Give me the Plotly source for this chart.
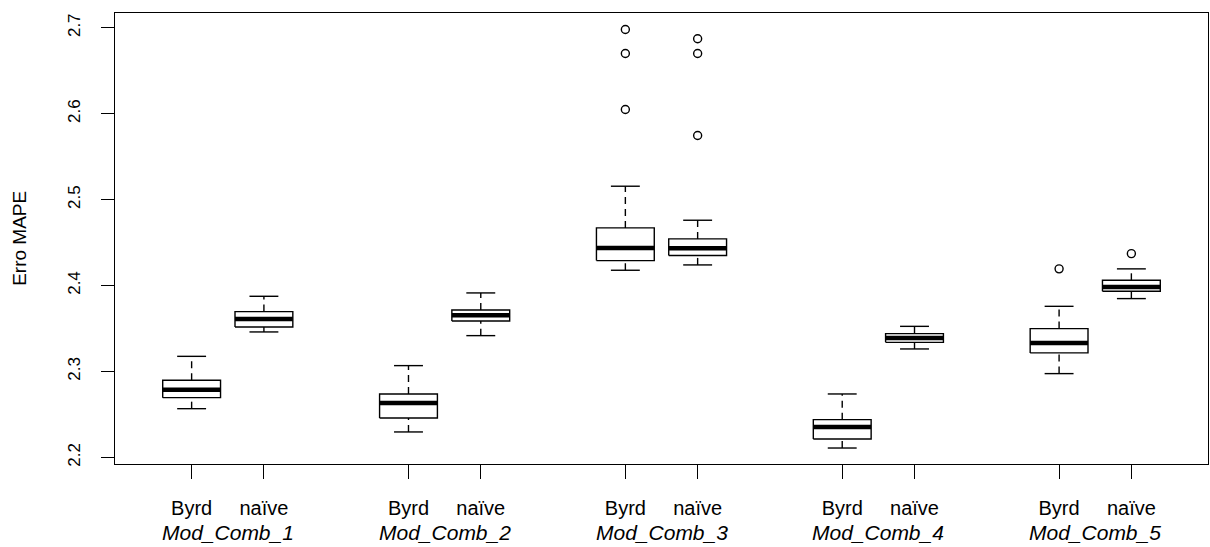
import plotly.graph_objects as go

groups = ["Mod_Comb_1", "Mod_Comb_2", "Mod_Comb_3", "Mod_Comb_4", "Mod_Comb_5"]
methods = ["Byrd", "naïve"]
# order: (g1 Byrd, g1 naive, g2 Byrd, g2 naive, ...)
lower_whisker = [2.2567, 2.3460, 2.2296, 2.3417, 2.4178, 2.4240, 2.2109, 2.3262, 2.2975, 2.3848]
q1 = [2.2695, 2.3518, 2.2459, 2.3588, 2.4290, 2.4349, 2.2214, 2.3339, 2.3216, 2.3933]
median = [2.2788, 2.3611, 2.2633, 2.3653, 2.4438, 2.4434, 2.2354, 2.3390, 2.3332, 2.3984]
q3 = [2.2897, 2.3697, 2.2738, 2.3716, 2.4671, 2.4543, 2.2439, 2.3440, 2.3499, 2.4061]
upper_whisker = [2.3176, 2.3875, 2.3068, 2.3914, 2.5156, 2.4760, 2.2738, 2.3525, 2.3758, 2.4194]
outliers = [[], [], [], [], [2.6049, 2.6700, 2.6980], [2.5746, 2.6700, 2.6872], [], [], [2.4194], [2.4372]]
y_ticks = [2.2, 2.3, 2.4, 2.5, 2.6, 2.7]

BOX_HALF = 0.4
CAP_HALF = 0.2
LW = 1.4

fig = go.Figure()
positions = []
labels = []
for i in range(len(median)):
    g, m = divmod(i, 2)
    p = 3 * g + m + 1
    positions.append(p)
    labels.append(methods[m])
    # dashed whiskers
    fig.add_trace(go.Scatter(
        x=[p, p, None, p, p], y=[lower_whisker[i], q1[i], None, q3[i], upper_whisker[i]],
        mode="lines", line=dict(color="black", width=LW, dash="7px,5px"),
        hoverinfo="skip", showlegend=False))
    # caps
    fig.add_trace(go.Scatter(
        x=[p - CAP_HALF, p + CAP_HALF, None, p - CAP_HALF, p + CAP_HALF],
        y=[lower_whisker[i], lower_whisker[i], None, upper_whisker[i], upper_whisker[i]],
        mode="lines", line=dict(color="black", width=LW),
        hoverinfo="skip", showlegend=False))
    # box
    fig.add_trace(go.Scatter(
        x=[p - BOX_HALF, p + BOX_HALF, p + BOX_HALF, p - BOX_HALF, p - BOX_HALF],
        y=[q1[i], q1[i], q3[i], q3[i], q1[i]],
        mode="lines", fill="toself", fillcolor="white",
        line=dict(color="black", width=LW),
        name=f"{groups[g]} {methods[m]}", showlegend=False))
    # median
    fig.add_trace(go.Scatter(
        x=[p - BOX_HALF, p + BOX_HALF], y=[median[i], median[i]],
        mode="lines", line=dict(color="black", width=4.5),
        hoverinfo="skip", showlegend=False))
    # outliers
    if outliers[i]:
        fig.add_trace(go.Scatter(
            x=[p] * len(outliers[i]), y=outliers[i], mode="markers",
            marker=dict(symbol="circle-open", size=8, color="black", line=dict(width=1.4)),
            showlegend=False))

for g, name in enumerate(groups):
    fig.add_annotation(x=3 * g + 1.5, xref="x", y=-0.1524, yref="paper",
                       text=f"<i>{name}</i>", showarrow=False,
                       xanchor="center", yanchor="middle",
                       font=dict(family="Liberation Sans, Arial", size=21, color="black"))

fig.add_annotation(x=-0.0875, xref="paper", y=0.5, yref="paper", text="Erro MAPE",
                   textangle=-90, showarrow=False, xanchor="center", yanchor="middle",
                   font=dict(family="Liberation Sans, Arial", size=19, color="black"))

fig.update_layout(
    width=1210, height=547,
    margin=dict(l=115, r=2, t=13, b=83),
    paper_bgcolor="white", plot_bgcolor="white",
    font=dict(family="Liberation Sans, Arial", color="black"),
    xaxis=dict(range=[-0.06, 15.06], tickvals=positions, ticktext=labels,
               ticks="outside", ticklen=14, tickwidth=LW, tickcolor="black",
               showgrid=False, zeroline=False, showline=True, linecolor="black",
               linewidth=LW, mirror=True, tickfont=dict(size=20),
               ticklabelstandoff=12),
    yaxis=dict(range=[2.1923, 2.7172], tickvals=y_ticks,
               ticktext=[f"{v:.1f}" for v in y_ticks], tickangle=-90,
               ticks="outside", ticklen=13, tickwidth=LW, tickcolor="black",
               showgrid=False, zeroline=False, showline=True, linecolor="black",
               linewidth=LW, mirror=True, tickfont=dict(size=17),
               ticklabelstandoff=14),
)

fig.write_html("out.html")
